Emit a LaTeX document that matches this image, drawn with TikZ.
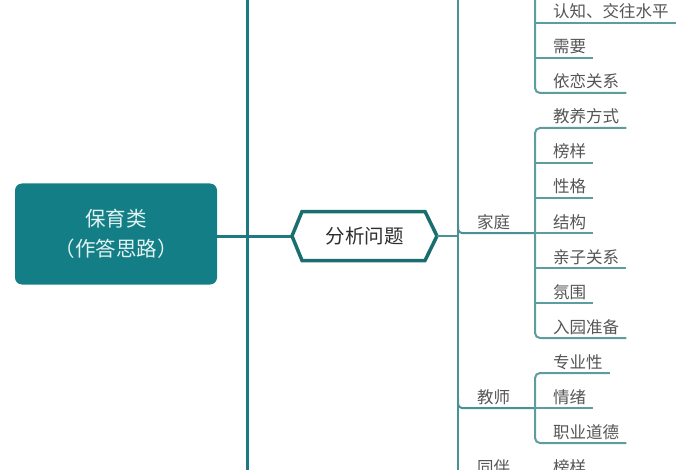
\documentclass[tikz,border=0pt]{standalone}
\usepackage{fontspec}
\newfontfamily\cjk{Noto Sans CJK SC}
\usetikzlibrary{calc}
\definecolor{rootfill}{RGB}{19,126,134}
\definecolor{mainline}{RGB}{29,122,128}
\definecolor{hexline}{RGB}{27,110,112}
\definecolor{ltwo}{RGB}{70,146,148}
\definecolor{lthree}{RGB}{92,158,160}
\definecolor{labgray}{RGB}{85,85,85}
\definecolor{hextext}{RGB}{45,45,45}
\definecolor{roottext}{RGB}{225,242,242}
\begin{document}
\begin{tikzpicture}[x=1pt,y=-1pt,
  rootbox/.style={fill=rootfill, rounded corners=7pt, minimum width=202pt, minimum height=101pt,
    inner sep=0pt, text=roottext, align=center, font=\cjk\fontsize{20.5}{30}\selectfont},
  hextxt/.style={inner sep=0pt, text=hextext, font=\cjk\fontsize{19.5}{22}\selectfont},
  lab/.style={inner sep=0pt, anchor=base west, text=labgray, font=\cjk\fontsize{16.5}{18}\selectfont},
  lone/.style={draw=mainline, line width=3pt},
  hexedge/.style={draw=hexline, line width=3.5pt, line join=miter, fill=white},
  ltwoline/.style={draw=ltwo, line width=2pt},
  lthreeline/.style={draw=lthree, line width=2pt, rounded corners=5pt}
]
\useasboundingbox (0,0) rectangle (700,470);
\clip (0,0) rectangle (700,470);

% ---- level 1
\node[rootbox] (root) at (116,234) {保育类\\（作答思路）};
\coordinate (vtop) at (247,-5);
\coordinate (vbot) at (247,475);
\coordinate (vjoin) at (247,236);
\draw[lone] (vtop) -- (vbot);
\draw[lone] (root.east |- vjoin) -- (vjoin);

% ---- hexagon
\coordinate (hexL) at (292,236);
\coordinate (hexR) at (437,236);
\draw[lone] (vjoin) -- (hexL);
\path[hexedge] (hexL) -- (302,211.5) -- (425,211.5) -- (hexR) -- (425,260.5) -- (302,260.5) -- cycle;
\node[hextxt] (hex) at (364.5,236.5) {分析问题};

% ---- level 2 trunk
\coordinate (wtop) at (458,-5);
\coordinate (wbot) at (458,475);
\draw[ltwoline] (wtop) -- (wbot);
\draw[ltwoline] (hexR) -- (458,236);

% ---- level 3 labels (x = 553, underline y = 23 + 35k, baseline = underline - 5)
\node[lab] (a1) at (553,18)  {认知、交往水平};
\node[lab] (a2) at (553,53)  {需要};
\node[lab] (a3) at (553,88)  {依恋关系};
\node[lab] (b1) at (553,123) {教养方式};
\node[lab] (b2) at (553,158) {榜样};
\node[lab] (b3) at (553,193) {性格};
\node[lab] (b4) at (553,228) {结构};
\node[lab] (b5) at (553,263) {亲子关系};
\node[lab] (b6) at (553,298) {氛围};
\node[lab] (b7) at (553,333) {入园准备};
\node[lab] (c1) at (553,368) {专业性};
\node[lab] (c2) at (553,403) {情绪};
\node[lab] (c3) at (553,438) {职业道德};
\node[lab] (d1) at (553,473) {榜样};

% ---- level 2 labels
\node[lab] (fam) at (477,228) {家庭};
\node[lab] (tea) at (477,403) {教师};
\node[lab] (peer) at (477,473) {同伴};

% ---- top group (parent above the view)
\coordinate (ta) at (535,-5);
\draw[lthreeline] (ta) -- (535,93) -- ($(a3.base east)+(7,5)$);
\draw[lthreeline] (535,23) -- ($(a1.base east)+(7,5)$);
\draw[lthreeline] (535,58) -- ($(a2.base east)+(7,5)$);

% ---- family group
\draw[ltwoline, rounded corners=4pt] (458,224) -- (458,233) -- (535,233);
\draw[lthreeline] ($(b1.base east)+(7,5)$) -- (535,128) -- (535,338) -- ($(b7.base east)+(7,5)$);
\draw[lthreeline] (535,163) -- ($(b2.base east)+(7,5)$);
\draw[lthreeline] (535,198) -- ($(b3.base east)+(7,5)$);
\draw[lthreeline] (535,233) -- ($(b4.base east)+(7,5)$);
\draw[lthreeline] (535,268) -- ($(b5.base east)+(7,5)$);
\draw[lthreeline] (535,303) -- ($(b6.base east)+(7,5)$);

% ---- teacher group
\draw[ltwoline, rounded corners=4pt] (458,398) -- (458,408) -- (535,408);
\draw[lthreeline] ($(c1.base east)+(7,5)$) -- (535,373) -- (535,443) -- ($(c3.base east)+(7,5)$);
\draw[lthreeline] (535,408) -- ($(c2.base east)+(7,5)$);

% ---- peer group (underlines below the view)
\draw[ltwoline] (458,478) -- (535,478);
\draw[lthreeline] (535,478) -- ($(d1.base east)+(7,5)$);
\end{tikzpicture}
\end{document}
